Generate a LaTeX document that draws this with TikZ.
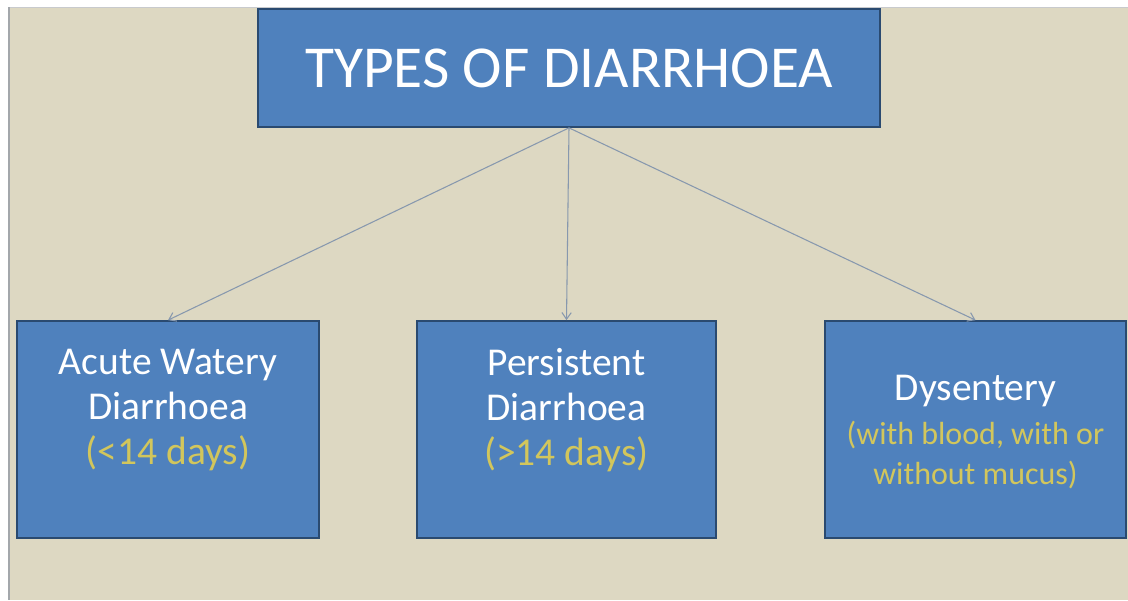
\documentclass[tikz,border=0pt]{standalone}
\usepackage{fontspec}
\setmainfont{Carlito}
\usetikzlibrary{arrows.meta,positioning,calc}
\definecolor{slide-bg}{HTML}{DDD8C2}
\definecolor{slide-edge}{HTML}{A3A7AB}
\definecolor{box-fill}{HTML}{4F81BD}
\definecolor{box-line}{HTML}{2A4A70}
\definecolor{note-gold}{HTML}{D2C65C}
\definecolor{link-grey}{HTML}{8798AE}

\begin{document}
\begin{tikzpicture}[
  x=0.75pt, y=-0.75pt,
  headbox/.style={
    rectangle, draw=box-line, line width=1.3pt, fill=box-fill,
    minimum width=466.5pt, minimum height=88.5pt, inner sep=0pt
  },
  typebox/.style={
    rectangle, draw=box-line, line width=1.3pt, fill=box-fill,
    minimum width=226pt, minimum height=162.75pt, inner sep=0pt
  },
  boxtext/.style={
    text=white, align=center, inner sep=0pt,
    font=\fontsize{29.6}{34}\selectfont
  },
  link/.style={
    -{Straight Barb[length=5pt,width=7pt]}, line width=0.8pt, link-grey
  }
]
\useasboundingbox (0,0) rectangle (1128,600);

%% Slide background
\fill[white] (0,0) rectangle (1128,600);
\fill[slide-bg] (9,7) rectangle (1128,600);
\draw[slide-edge!60, line width=0.75pt] (9,7) -- (1128,7);
\draw[slide-edge, line width=2.2pt] (9,7) -- (9,600);

%% Title
\node[headbox] (types) at (569,68) {};
\node[text=white, inner sep=0pt, font=\fontsize{44.6}{52}\selectfont] (typestxt) at (types.center) {TYPES OF DIARRHOEA};

%% Types
\node[typebox, minimum width=226.5pt] (acute) at (168,429.5) {};
\node[typebox, minimum width=224.25pt] (persist) at (566.5,429.5) {};
\node[typebox, minimum width=225.75pt] (dysent) at (975.5,429.5) {};

\node[boxtext] (acutetxt) at (168,410) {Acute Watery\\Diarrhoea\\\textcolor{note-gold}{(<14 days)}};
\node[boxtext] (persisttxt) at (566.5,410) {Persistent\\Diarrhoea\\\textcolor{note-gold}{(>14 days)}};
\node[boxtext] (dysenttxt) at (975.5,432) {Dysentery\\[-1pt]{\fontsize{24}{30}\selectfont\color{note-gold}(with blood, with or}\\[-4pt]{\fontsize{24}{30}\selectfont\color{note-gold}without mucus)}};

%% Arrows
\draw[link] (types.south) -- (acute.north);
\draw[link] (types.south) -- (persist.north);
\draw[link] (types.south) -- (dysent.north);

\end{tikzpicture}
\end{document}
